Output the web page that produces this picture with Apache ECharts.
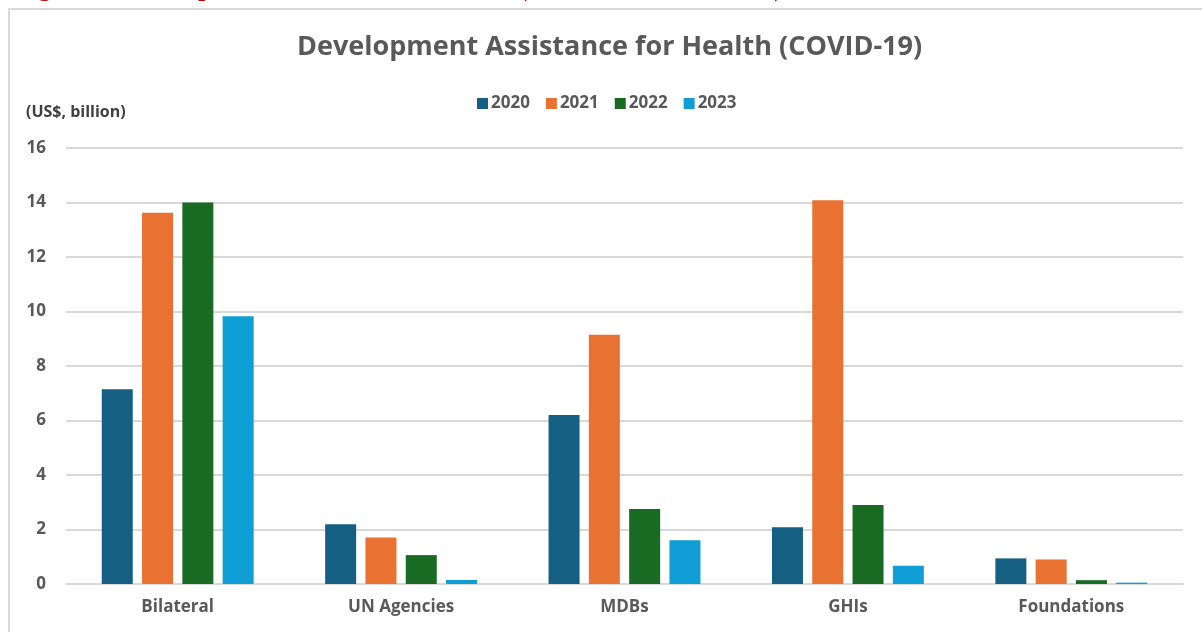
<!DOCTYPE html>
<html>
<head>
<meta charset="utf-8">
<script src="https://cdn.jsdelivr.net/npm/echarts@6/dist/echarts.min.js"></script>
<style>
	html, body { margin: 0; padding: 0; background: #fff; }
	#main { width: 1202px; height: 632px; }
</style>
</head>
<body>
<div id="main"></div>
<script>
// 数据
var categories = ['Bilateral', 'UN Agencies', 'MDBs', 'GHIs', 'Foundations'];
var years = ['2020', '2021', '2022', '2023'];
var v2020 = [7.15, 2.19, 6.2, 2.08, 0.94];
var v2021 = [13.62, 1.71, 9.15, 14.08, 0.9];
var v2022 = [14.0, 1.06, 2.75, 2.9, 0.14];
var v2023 = [9.83, 0.15, 1.61, 0.67, 0.05];
var yTicks = [0, 16, 2];	// min, max, interval

var colors = ['#156082', '#e97132', '#196b24', '#0f9ed5'];
var txtColor = '#595959';
var font = '"Open Sans", Roboto, sans-serif';

var chart = echarts.init(document.getElementById('main'));

var seriesData = [v2020, v2021, v2022, v2023];
var series = [];
for (var i = 0; i < years.length; i++) {
	series.push({
		name: years[i],
		type: 'bar',
		data: seriesData[i],
		barWidth: 31,
		barGap: '30%',
		itemStyle: { color: colors[i] }
	});
}

var option = {
	animation: false,
	color: colors,
	textStyle: { fontFamily: font },
	title: {
		text: 'Development Assistance for Health (COVID-19)',
		left: 292,
		top: 29,
		textStyle: { fontSize: 27, fontWeight: 'bold', color: txtColor, fontFamily: font }
	},
	legend: {
		data: years,
		left: 472,
		top: 90,
		icon: 'rect',
		itemWidth: 11,
		itemHeight: 11,
		itemGap: 16,
		textStyle: { fontSize: 17, fontWeight: 'bold', color: txtColor, fontFamily: font, padding: [0, 0, 0, -2] }
	},
	grid: { left: 66, right: 19, top: 148, bottom: 48, containLabel: false },
	xAxis: {
		type: 'category',
		data: categories,
		axisTick: { show: false },
		axisLine: { lineStyle: { color: '#d9d9d9', width: 2 } },
		axisLabel: { margin: 15, fontSize: 17, fontWeight: 'bold', color: txtColor, fontFamily: font }
	},
	yAxis: {
		type: 'value',
		min: yTicks[0],
		max: yTicks[1],
		interval: yTicks[2],
		axisLine: { show: false },
		axisTick: { show: false },
		splitLine: { lineStyle: { color: '#d9d9d9', width: 2 } },
		axisLabel: { margin: 20, fontSize: 17, fontWeight: 'bold', color: txtColor, fontFamily: font }
	},
	graphic: [{
		type: 'rect',
		z: -10,
		shape: { x: 9, y: 9, width: 1400, height: 800 },
		style: { fill: 'none', stroke: '#d9d9d9', lineWidth: 2 }
	}, {
		type: 'text',
		x: 15, y: 2,
		style: {
			text: 'Figure 1: Development Assistance for Health (COVID-19, 2020-2023),',
			font: 'bold 26px "Liberation Serif", serif',
			fill: '#c00000',
			verticalAlign: 'bottom'
		}
	}, {
		type: 'text',
		x: 26, y: 104,
		style: {
			text: '(US$, billion)',
			font: 'bold 16px "Open Sans", sans-serif',
			fill: '#404040'
		}
	}],
	series: series
};
chart.setOption(option);
</script>
</body>
</html>
